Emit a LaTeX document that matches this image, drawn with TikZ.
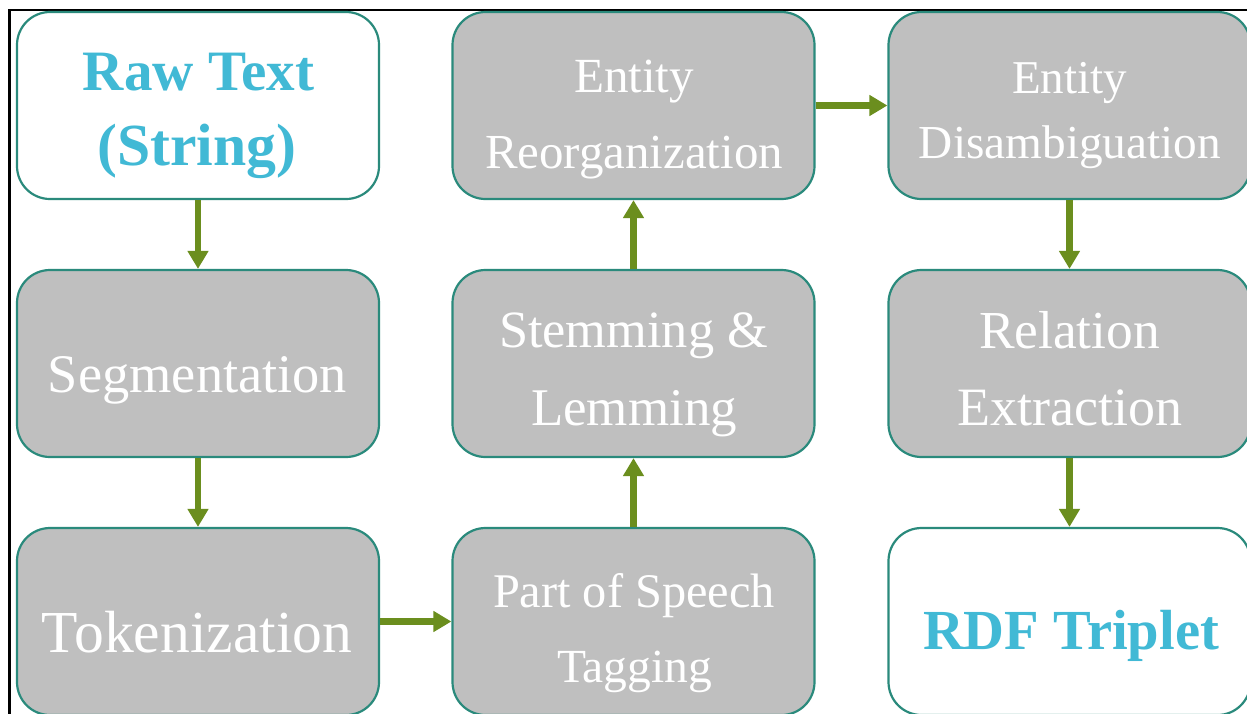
\documentclass[tikz,border=0pt]{standalone}
\usepackage{fontspec}
\setmainfont{Liberation Serif}
\usetikzlibrary{arrows.meta}
\definecolor{boxfill}{HTML}{BFBFBF}
\definecolor{boxline}{HTML}{2A8A7C}
\definecolor{arrowc}{HTML}{6B8E1E}
\definecolor{titlec}{HTML}{41B9D5}
\newcommand\fitw[2]{\resizebox{#1pt}{!}{#2}}
\begin{document}
\begin{tikzpicture}[x=1pt,y=-1pt,
  stagebox/.style={rectangle, rounded corners=33pt, draw=boxline, line width=2.2pt,
    minimum width=362pt, minimum height=187pt, inner sep=0pt},
  graybox/.style={stagebox, fill=boxfill},
  whitebox/.style={stagebox, fill=white},
  flow/.style={draw=arrowc, line width=6.5pt, -{Triangle[length=18pt,width=20pt]}},
  lbl/.style={anchor=base, inner sep=0pt, text=white, font=\fontsize{40}{48}\selectfont},
  tlbl/.style={lbl, text=titlec, font=\fontsize{40}{48}\selectfont\bfseries}]
\useasboundingbox (0,0) rectangle (1247,713);
\clip (0,0) rectangle (1247,713);
\fill[white] (0,0) rectangle (1247,713);
% frame
\draw[black, line width=2.2pt] (9.5,720) -- (9.5,9.8) -- (1260,9.8);
% boxes
\node[whitebox] (raw)  at (198,105.5) {};
\node[graybox]  (seg)  at (198,363.5) {};
\node[graybox]  (tok)  at (198,621.5) {};
\node[graybox]  (reo)  at (633.5,105.5) {};
\node[graybox]  (stem) at (633.5,363.5) {};
\node[graybox]  (pos)  at (633.5,621.5) {};
\node[graybox]  (dis)  at (1069.5,105.5) {};
\node[graybox]  (rel)  at (1069.5,363.5) {};
\node[whitebox] (rdf)  at (1069.5,621.5) {};
% labels
\node[tlbl] (rawA) at (198.5,90) {\fitw{231}{Raw Text}};
\node[tlbl] (rawB) at (197,165) {\fitw{199}{(String)}};
\node[lbl] (segA) at (197.5,392) {\fitw{299}{Segmentation}};
\node[lbl] (tokA) at (197,652) {\fitw{310}{Tokenization}};
\node[lbl] (reoA) at (634,92) {\fitw{120}{Entity}};
\node[lbl] (reoB) at (634,168) {\fitw{298}{Reorganization}};
\node[lbl] (stemA) at (633.5,347) {\fitw{269}{Stemming \&}};
\node[lbl] (stemB) at (634,425) {\fitw{206}{Lemming}};
\node[lbl] (posA) at (634,607) {\fitw{282}{Part of Speech}};
\node[lbl] (posB) at (634.5,682) {\fitw{155}{Tagging}};
\node[lbl] (disA) at (1069.5,93) {\fitw{115}{Entity}};
\node[lbl] (disB) at (1070,158) {\fitw{302}{Disambiguation}};
\node[lbl] (relA) at (1069.5,348) {\fitw{181}{Relation}};
\node[lbl] (relB) at (1069.5,425) {\fitw{225}{Extraction}};
\node[tlbl] (rdfA) at (1071,649) {\fitw{296}{RDF Triplet}};
% connectors
\draw[flow] (raw.south) -- (seg.north);
\draw[flow] (seg.south) -- (tok.north);
\draw[flow] (tok.east) -- (pos.west);
\draw[flow] (pos.north) -- (stem.south);
\draw[flow] (stem.north) -- (reo.south);
\draw[flow] (reo.east) -- (dis.west);
\draw[flow] (dis.south) -- (rel.north);
\draw[flow] (rel.south) -- (rdf.north);
\end{tikzpicture}
\end{document}
